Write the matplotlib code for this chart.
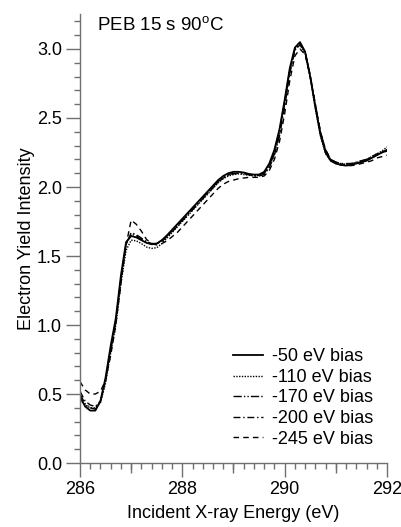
import numpy as np
import matplotlib
matplotlib.use("Agg")
import matplotlib.pyplot as plt
from matplotlib.ticker import MultipleLocator, FixedLocator

plt.rcParams['font.family'] = ['Liberation Sans', 'DejaVu Sans']
plt.rcParams['mathtext.fontset'] = 'custom'
plt.rcParams['mathtext.rm'] = 'Liberation Sans'

# photon energy grid (eV)
energy = np.round(np.arange(286.0, 292.01, 0.1), 1)

bias_labels = ["-50 eV bias", "-110 eV bias", "-170 eV bias", "-200 eV bias", "-245 eV bias"]

bias_50 = [0.48, 0.41, 0.38, 0.38, 0.45, 0.62, 0.85, 1.05, 1.36, 1.60,
           1.645, 1.635, 1.615, 1.595, 1.585, 1.59, 1.615, 1.65, 1.69, 1.73,
           1.77, 1.81, 1.85, 1.89, 1.93, 1.97, 2.01, 2.05, 2.08, 2.10,
           2.11, 2.11, 2.105, 2.095, 2.09, 2.09, 2.11, 2.17, 2.27, 2.42,
           2.63, 2.86, 3.01, 3.05, 2.98, 2.80, 2.58, 2.38, 2.25, 2.19,
           2.17, 2.16, 2.155, 2.16, 2.17, 2.18, 2.19, 2.21, 2.23, 2.25,
           2.27]
bias_110 = [0.46, 0.42, 0.40, 0.40, 0.44, 0.58, 0.80, 1.00, 1.30, 1.54,
            1.615, 1.61, 1.59, 1.565, 1.555, 1.56, 1.59, 1.63, 1.67, 1.71,
            1.75, 1.79, 1.83, 1.87, 1.91, 1.95, 1.99, 2.03, 2.06, 2.08,
            2.09, 2.095, 2.09, 2.085, 2.08, 2.085, 2.10, 2.16, 2.26, 2.41,
            2.62, 2.85, 3.00, 3.03, 2.97, 2.79, 2.57, 2.37, 2.24, 2.19,
            2.17, 2.165, 2.16, 2.165, 2.175, 2.19, 2.20, 2.22, 2.24, 2.26,
            2.29]
bias_170 = [0.50, 0.43, 0.40, 0.39, 0.44, 0.60, 0.83, 1.03, 1.34, 1.59,
            1.66, 1.645, 1.62, 1.60, 1.59, 1.59, 1.61, 1.645, 1.68, 1.72,
            1.76, 1.80, 1.84, 1.88, 1.92, 1.96, 2.00, 2.04, 2.07, 2.09,
            2.10, 2.10, 2.10, 2.09, 2.085, 2.085, 2.10, 2.15, 2.24, 2.39,
            2.60, 2.84, 3.00, 3.04, 2.98, 2.80, 2.59, 2.39, 2.26, 2.20,
            2.18, 2.17, 2.165, 2.17, 2.175, 2.185, 2.20, 2.21, 2.23, 2.25,
            2.26]
bias_200 = [0.52, 0.45, 0.42, 0.41, 0.45, 0.60, 0.82, 1.02, 1.33, 1.58,
            1.67, 1.655, 1.63, 1.605, 1.59, 1.59, 1.605, 1.64, 1.675, 1.715,
            1.755, 1.795, 1.835, 1.875, 1.915, 1.955, 1.995, 2.035, 2.065, 2.085,
            2.095, 2.10, 2.095, 2.09, 2.08, 2.08, 2.09, 2.14, 2.23, 2.37,
            2.58, 2.82, 2.99, 3.03, 2.98, 2.81, 2.60, 2.40, 2.27, 2.20,
            2.18, 2.17, 2.17, 2.17, 2.18, 2.19, 2.20, 2.22, 2.24, 2.25,
            2.26]
bias_245 = [0.59, 0.53, 0.50, 0.50, 0.52, 0.60, 0.78, 1.00, 1.30, 1.58,
            1.76, 1.73, 1.68, 1.62, 1.59, 1.58, 1.59, 1.61, 1.64, 1.67,
            1.71, 1.75, 1.79, 1.83, 1.87, 1.91, 1.95, 1.99, 2.02, 2.04,
            2.05, 2.06, 2.065, 2.07, 2.07, 2.07, 2.08, 2.12, 2.20, 2.33,
            2.53, 2.77, 2.95, 3.00, 2.96, 2.80, 2.60, 2.40, 2.27, 2.20,
            2.17, 2.16, 2.155, 2.155, 2.16, 2.17, 2.18, 2.19, 2.21, 2.22,
            2.23]

series = [bias_50, bias_110, bias_170, bias_200, bias_245]
styles = ['-', (0, (1, 1)), (0, (6, 1.5, 1, 1.5, 1, 1.5)), (0, (5, 2, 1, 2)), (0, (4, 3))]
widths = [1.3, 1.0, 1.0, 1.0, 1.0]

fig = plt.figure(figsize=(4.01, 5.27), dpi=100)
ax = fig.add_axes([0.1995, 0.1214, 0.7655, 0.8511])

for y, ls, lw, lab in zip(series, styles, widths, bias_labels):
    ax.plot(energy, y, color='black', linestyle=ls, linewidth=lw, label=lab)

ax.set_xlim(286, 292)
ax.set_ylim(0, 3.25)
ax.xaxis.set_major_locator(MultipleLocator(2))
ax.xaxis.set_minor_locator(MultipleLocator(0.2))
ax.yaxis.set_major_locator(MultipleLocator(0.5))
ax.yaxis.set_minor_locator(MultipleLocator(0.1))
ax.yaxis.set_major_formatter(plt.FormatStrFormatter('%.1f'))

spine_col = '#707070'
for s in ['top', 'right']:
    ax.spines[s].set_visible(False)
for s in ['left', 'bottom']:
    ax.spines[s].set_color(spine_col)
    ax.spines[s].set_linewidth(1.0)
ax.tick_params(which='major', direction='out', length=10, width=1, color=spine_col, labelsize=13, pad=3)
ax.tick_params(which='minor', direction='out', length=4, width=1, color=spine_col)

# medium ticks at odd eV
sec = ax.secondary_xaxis('bottom')
sec.xaxis.set_major_locator(FixedLocator([287, 289, 291]))
sec.tick_params(direction='out', length=7, width=1, color=spine_col, labelbottom=False)
sec.spines['bottom'].set_visible(False)

ax.set_xlabel('Incident X-ray Energy (eV)', fontsize=13, labelpad=5)
ax.set_ylabel('Electron Yield Intensity', fontsize=13, labelpad=1)

ax.text(0.057, 0.975, r'PEB 15 s 90$^{\mathrm{o}}$C', transform=ax.transAxes,
        fontsize=13.5, ha='left', va='center')

ax.legend(loc='lower right', bbox_to_anchor=(0.99, 0.01), frameon=False, fontsize=13,
          handlelength=1.66, handletextpad=0.5, labelspacing=0.2, borderaxespad=0.2)

fig.savefig('out.png', dpi=100)
